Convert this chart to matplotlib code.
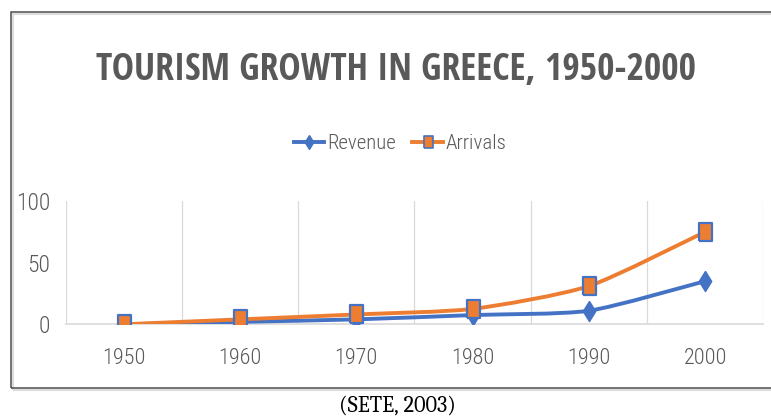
import matplotlib
matplotlib.use('Agg')
import matplotlib.pyplot as plt
from matplotlib.path import Path
from matplotlib.patches import PathPatch, Rectangle
from matplotlib.lines import Line2D

years = ['1950', '1960', '1970', '1980', '1990', '2000']
revenue = [0, 2, 4, 7.5, 11, 35]
arrivals = [0, 4, 8, 12.5, 31, 75]

BLUE = '#4472C4'
ORANGE = '#ED7D31'
GREY = '#595959'
TITLE_FONT = ['Open Sans Condensed', 'DejaVu Sans']
LABEL_FONT = ['Roboto Condensed', 'DejaVu Sans']

# diamond and rectangle markers, taller than wide
diamond = [(0, 1), (0.62, 0), (0, -1), (-0.62, 0), (0, 1)]
rect = [(-0.72, -1), (0.72, -1), (0.72, 1), (-0.72, 1), (-0.72, -1)]


def smooth_path(xs, ys, k=9.0):
    # gently curved cubic segments through every point
    pts = list(zip(xs, ys))
    n = len(pts)
    verts = [pts[0]]
    codes = [Path.MOVETO]
    for i in range(n - 1):
        p0 = pts[max(i - 1, 0)]
        p1 = pts[i]
        p2 = pts[i + 1]
        p3 = pts[min(i + 2, n - 1)]
        c1 = (p1[0] + (p2[0] - p0[0]) / k, p1[1] + (p2[1] - p0[1]) / k)
        c2 = (p2[0] - (p3[0] - p1[0]) / k, p2[1] - (p3[1] - p1[1]) / k)
        verts += [c1, c2, p2]
        codes += [Path.CURVE4] * 3
    return Path(verts, codes)


fig = plt.figure(figsize=(7.71, 4.16), dpi=100)
ax = fig.add_axes([0.085, 0.2204, 0.905, 0.2964])

x = list(range(len(years)))

ax.add_patch(PathPatch(smooth_path(x, revenue), fill=False, edgecolor=BLUE,
                       lw=2.8, capstyle='round', joinstyle='round', zorder=3))
ax.plot(x, revenue, ls='none', marker=diamond, ms=14.5, color=BLUE,
        mec=BLUE, zorder=4)
ax.add_patch(PathPatch(smooth_path(x, arrivals), fill=False, edgecolor=ORANGE,
                       lw=2.8, capstyle='round', joinstyle='round', zorder=5))
ax.plot(x, arrivals, ls='none', marker=rect, ms=13, color=ORANGE,
        mec=BLUE, mew=1.6, zorder=6)

ax.set_xlim(-0.5, 5.5)
ax.set_ylim(0, 100)
ax.set_yticks([0, 50, 100])
ax.set_xticks(x)
ax.set_xticklabels(years)
ax.set_xticks([i - 0.5 for i in range(len(years) + 1)], minor=True)
ax.grid(which='minor', axis='x', color='#D9D9D9', lw=0.9)
ax.tick_params(which='both', length=0)
ax.tick_params(axis='x', pad=17, labelsize=16, labelcolor=GREY)
ax.tick_params(axis='y', pad=11, labelsize=17, labelcolor=GREY)
for lab in ax.get_xticklabels() + ax.get_yticklabels():
    lab.set_family(LABEL_FONT)
    lab.set_fontweight('light')
for side in ['top', 'right', 'left']:
    ax.spines[side].set_visible(False)
ax.spines['bottom'].set_color('#D9D9D9')
ax.spines['bottom'].set_linewidth(1.2)

fig.text(0.514, 0.832, 'TOURISM GROWTH IN GREECE, 1950-2000', ha='center',
         va='center', fontsize=27, fontweight='bold', color=GREY,
         family=TITLE_FONT)

handles = [
    Line2D([], [], color=BLUE, lw=2.8, marker=diamond, ms=10, mec=BLUE),
    Line2D([], [], color=ORANGE, lw=2.8, marker=rect, ms=9, mec=BLUE, mew=1.2),
]
fig.legend(handles, ['Revenue', 'Arrivals'], loc='center', ncol=2,
           bbox_to_anchor=(0.519, 0.655), frameon=False, handlelength=1.45,
           handletextpad=0.15, columnspacing=0.8,
           prop={'family': LABEL_FONT, 'size': 15, 'weight': 'light'},
           labelcolor=GREY)

# chart frame with a faint shadow line just inside
fig.patches.append(Rectangle((13 / 771, (416 - 390) / 416), 1.1, (390 - 14) / 416,
                             transform=fig.transFigure, fill=False,
                             edgecolor='#DDDDDD', lw=1.6, zorder=0))
fig.patches.append(Rectangle((11 / 771, (416 - 388) / 416), 1.1, (388 - 12) / 416,
                             transform=fig.transFigure, fill=False,
                             edgecolor='#4D4D4D', lw=1.1, zorder=1))

fig.text(0.516, 0.024, '(SETE, 2003)', ha='center', va='center',
         fontsize=16, family=['Caladea', 'DejaVu Serif'], color='black')

fig.savefig('out.png', dpi=100)
